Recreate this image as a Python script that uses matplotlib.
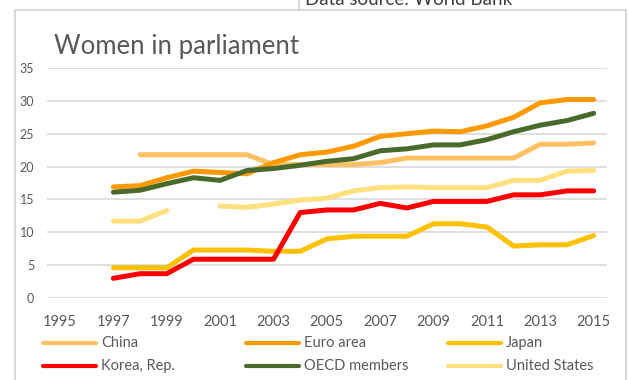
import numpy as np
import matplotlib
matplotlib.use('Agg')
import matplotlib.pyplot as plt
from matplotlib.lines import Line2D
from matplotlib.patches import Rectangle

nan = np.nan

years = list(range(1995, 2016))
tick_years = years[::2]

# % of seats held by women
china = [nan, nan, nan, 21.8, 21.8, 21.8, 21.8, 21.8, 20.3, 20.3, 20.3, 20.3, 20.6,
         21.3, 21.3, 21.3, 21.3, 21.3, 23.4, 23.4, 23.6]
euro = [nan, nan, 16.9, 17.1, 18.3, 19.3, 19.1, 18.9, 20.6, 21.8, 22.2, 23.1, 24.6,
        25.0, 25.4, 25.3, 26.2, 27.5, 29.7, 30.2, 30.2]
japan = [nan, nan, 4.6, 4.6, 4.6, 7.3, 7.3, 7.3, 7.1, 7.1, 9.0, 9.4, 9.4,
         9.4, 11.3, 11.3, 10.8, 7.9, 8.1, 8.1, 9.5]
korea = [nan, nan, 3.0, 3.7, 3.7, 5.9, 5.9, 5.9, 5.9, 13.0, 13.4, 13.4, 14.4,
         13.7, 14.7, 14.7, 14.7, 15.7, 15.7, 16.3, 16.3]
oecd = [nan, nan, 16.1, 16.4, 17.4, 18.3, 17.9, 19.4, 19.7, 20.2, 20.8, 21.2, 22.4,
        22.7, 23.3, 23.3, 24.1, 25.3, 26.3, 27.0, 28.1]
usa = [nan, nan, 11.7, 11.7, 13.3, nan, 14.0, 13.8, 14.3, 14.9, 15.2, 16.3, 16.8,
       16.9, 16.8, 16.8, 16.8, 17.9, 17.9, 19.3, 19.4]

names = ['China', 'Euro area', 'Japan', 'Korea, Rep.', 'OECD members', 'United States']
series = [china, euro, japan, korea, oecd, usa]
colors = ['#FFC064', '#FF9900', '#FFC000', '#FF0000', '#4A6A2B', '#FFE07F']

plt.rcParams['font.family'] = ['Lato', 'DejaVu Sans']
grey = '#595959'

W, H = 628, 380
fig = plt.figure(figsize=(W / 100, H / 100), dpi=100)
ax = fig.add_axes([46.7 / W, 1 - 298 / H, (607 - 46.7) / W, (298 - 68) / H])

x = np.arange(len(years))
for vals, col in zip(series, colors):
    ax.plot(x, vals, color=col, lw=3.6, solid_capstyle='round', solid_joinstyle='round')

ax.set_xlim(-0.5, len(years) - 0.5)
ax.set_ylim(0, 35)
ax.set_yticks(range(0, 36, 5))
ax.set_xticks(x[::2])
ax.set_xticklabels([str(y) for y in tick_years])
ax.tick_params(axis='x', length=0, pad=12, labelsize=10.5, labelcolor=grey)
ax.tick_params(axis='y', length=0, pad=9, labelsize=9, labelcolor=grey)
ax.grid(axis='y', color='#D9D9D9', lw=1.2)
ax.set_axisbelow(True)
for s in ax.spines.values():
    s.set_visible(False)

# chart frame and the box above it (its caption is cut by the top edge, as in the source)
fig.add_artist(Rectangle((14.7 / W, -0.05), (625.7 - 14.7) / W, 1 - 10 / H + 0.05,
                         transform=fig.transFigure, fill=False, edgecolor='#D9D9D9', lw=1.5))
fig.add_artist(Line2D([299 / W, 299 / W], [1 - 10 / H, 1.0], color='#D9D9D9', lw=1.5))
fig.text(305 / W, 1 - 5 / H, 'Data source: World Bank', fontsize=13.5, color='#404040', va='baseline')

fig.text(54 / W, 1 - 54 / H, 'Women in parliament', fontsize=18.5, color=grey, va='baseline')

# legend, 3 columns x 2 rows
for i, (name, col) in enumerate(zip(names, colors)):
    r, c = divmod(i, 3)
    x0 = 43 + c * 202.5
    y0 = 343 + r * 23
    fig.add_artist(Line2D([x0 / W, (x0 + 53) / W], [1 - y0 / H, 1 - y0 / H], color=col,
                          lw=3, solid_capstyle='round'))
    fig.text((x0 + 58) / W, 1 - y0 / H, name, fontsize=10.5, color=grey, va='center')

fig.savefig('out.png', dpi=100)
